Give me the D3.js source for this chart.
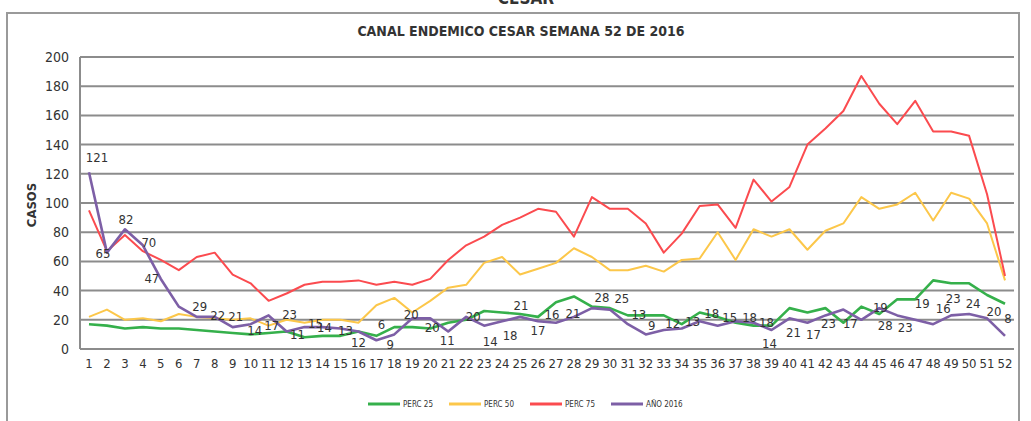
<!DOCTYPE html>
<html>
<head>
<meta charset="utf-8">
<script src="https://cdn.jsdelivr.net/npm/d3@7"></script>
<style>
  body { margin: 0; background: #fff; }
  svg text { font-family: 'Liberation Sans Narrow', 'DejaVu Sans Condensed', 'Liberation Sans', sans-serif; fill: #333; }
</style>
</head>
<body>
<svg id="chart" width="1031" height="421"></svg>
<script>
const weeks = ['1','2','3','4','5','6','7','8','9','10','11','12','13','14','15','16','17','18','19','20','21','22','23','24','25','26',
  '27','28','29','30','31','32','33','34','35','36','37','38','39','40','41','42','43','44','45','46','47','48','49','50','51','52'];

const perc25 = [17,16,14,15,14,14,13,12,11,10,11,12,8,9,9,12,9,15,15,14,18,20,26,25,24,22,
  32,36,29,28,23,23,23,17,25,22,18,16,16,28,25,28,18,29,24,34,34,47,45,45,37,31];
const perc50 = [22,27,20,21,19,24,22,21,20,21,16,20,18,20,20,18,30,35,25,33,42,44,59,63,51,55,
  59,69,63,54,54,57,53,61,62,80,61,82,77,82,68,81,86,104,96,99,107,88,107,103,86,47];
const perc75 = [95,67,78,67,61,54,63,66,51,45,33,38,44,46,46,47,44,46,44,48,61,71,77,85,90,96,
  94,77,104,96,96,86,66,79,98,99,83,116,101,111,140,151,163,187,168,154,170,149,149,146,106,50];
const ano2016 = [121,66,82,71,48,29,22,22,15,17,23,12,15,15,14,12,6,10,21,21,12,22,16,19,22,19,
  18,22,28,27,17,10,13,14,19,16,19,18,13,21,18,23,27,20,28,23,20,17,23,24,21,9];
const dataLabels = ['121','65','82','70','47','29','22','21','14','17','23','11','15','14','13','12','6','9','20','20','11','20','14','18','21','17',
  '16','21','28','25','13','9','12','13','18','15','18','18','14','21','17','23','17','19','28','23','19','16','23','24','20','8'];
const yTicks = [0,20,40,60,80,100,120,140,160,180,200];

// where excel dropped each data label, relative to its point (px)
const labelOffsets = [[8,-15],[-4,1],[1,-10],[6,-3],[-9,0],[21,0],[21,-1],[21,0],[22,3],[21,1],[21,-1],[11,3],[11,-4],
  [2,0],[5,2],[0,11],[5,-16],[-4,10],[-1,-4],[2,9],[-1,9],[7,0],[6,16],[8,14],[1,-11],[0,9],
  [-4,-8],[-1,-3],[10,-11],[12,-11],[11,-10],[6,-9],[9,-7],[11,-7],[12,-8],[12,-8],[14,-4],[13,0],[-2,13],
  [4,14],[6,12],[3,8],[7,14],[19,-12],[6,17],[8,12],[7,-16],[10,-16],[2,-17],[4,-11],[7,-7],[3,-17]];

const series = [
  { name: 'PERC 25', values: perc25, color: '#35b04b', width: 2.6 },
  { name: 'PERC 50', values: perc50, color: '#fcc74a', width: 2 },
  { name: 'PERC 75', values: perc75, color: '#fb4b4f', width: 2 },
  { name: 'AÑO 2016', values: ano2016, color: '#7d5fa6', width: 2.6 }
];

const svg = d3.select('#chart');

// outer frame of the excel sheet
svg.append('rect')
  .attr('x', 7).attr('y', 13)
  .attr('width', 1012).attr('height', 430)
  .attr('fill', 'none')
  .attr('stroke', '#9a9a9a')
  .attr('stroke-width', 2);

svg.append('text')
  .attr('x', 526).attr('y', 4)
  .attr('text-anchor', 'middle')
  .style('font-size', '17px').style('font-weight', 'bold')
  .text('CESAR');

svg.append('text')
  .attr('x', 521).attr('y', 36)
  .attr('text-anchor', 'middle')
  .style('font-size', '14px').style('font-weight', 'bold')
  .text('CANAL ENDEMICO CESAR  SEMANA 52 DE 2016');

const x = d3.scaleBand().domain(weeks).range([80, 1014]);
const y = d3.scaleLinear().domain([0, 200]).range([349, 57]);
const cx = (d) => x(d) + x.bandwidth() / 2;

// horizontal gridlines
svg.append('g')
  .selectAll('line')
  .data(yTicks)
  .enter()
  .append('line')
  .attr('x1', 80).attr('x2', 1014)
  .attr('y1', (d) => y(d)).attr('y2', (d) => y(d))
  .attr('stroke', '#8c8c8c')
  .attr('stroke-width', 2);

svg.append('line')
  .attr('x1', 80).attr('x2', 80)
  .attr('y1', y(0)).attr('y2', y(200))
  .attr('stroke', '#8c8c8c')
  .attr('stroke-width', 2);

let yAxis = svg.append('g')
  .attr('transform', 'translate(80,0)')
  .call(d3.axisLeft(y).tickValues(yTicks).tickSize(0).tickPadding(11));
yAxis.select('.domain').remove();
yAxis.selectAll('text').style('font-size', '14px');

let xAxis = svg.append('g')
  .attr('transform', 'translate(0,' + y(0) + ')')
  .call(d3.axisBottom(x).tickSize(0).tickPadding(10));
xAxis.select('.domain').remove();
xAxis.selectAll('text').style('font-size', '13px');

svg.append('text')
  .attr('transform', 'translate(36,205) rotate(-90)')
  .attr('text-anchor', 'middle')
  .style('font-size', '13px').style('font-weight', 'bold')
  .text('CASOS');

let line = d3.line()
  .x((d, i) => cx(weeks[i]))
  .y((d) => y(d));

series.forEach((s) => {
  svg.append('path')
    .datum(s.values)
    .attr('fill', 'none')
    .attr('stroke', s.color)
    .attr('stroke-width', s.width)
    .attr('stroke-linejoin', 'round')
    .attr('d', line);
});

svg.append('g')
  .selectAll('text')
  .data(dataLabels)
  .enter()
  .append('text')
  .attr('x', (d, i) => cx(weeks[i]) + labelOffsets[i][0])
  .attr('y', (d, i) => y(ano2016[i]) + labelOffsets[i][1])
  .attr('dy', '0.35em')
  .attr('text-anchor', 'middle')
  .style('font-size', '13px')
  .text((d) => d);

// legend
let legend = svg.append('g')
  .attr('transform', 'translate(368,404)')
  .selectAll('g')
  .data(series)
  .enter()
  .append('g')
  .attr('transform', (d, i) => 'translate(' + i * 81 + ',0)');

legend.append('line')
  .attr('x1', 0).attr('x2', 32)
  .attr('stroke', (d) => d.color)
  .attr('stroke-width', 3);

legend.append('text')
  .attr('x', 35)
  .attr('dy', '0.35em')
  .style('font-size', '8px')
  .text((d) => d.name);
</script>
</body>
</html>
